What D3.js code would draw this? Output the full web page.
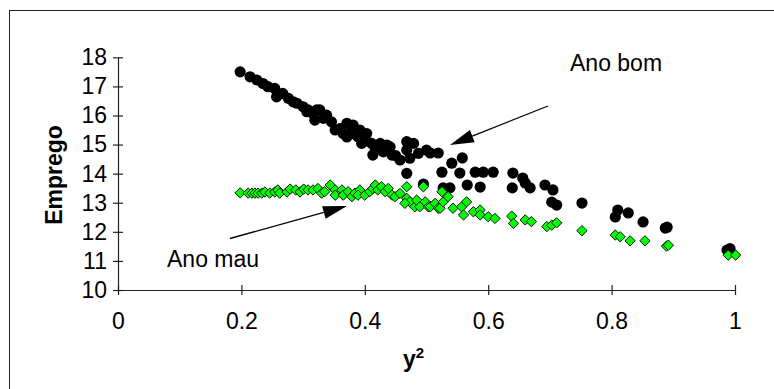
<!DOCTYPE html>
<html>
<head>
<meta charset="utf-8">
<script src="https://cdn.jsdelivr.net/npm/d3@7"></script>
<style>
  body { margin: 0; background: #fff; }
  svg { display: block; font-family: Arial, "Liberation Sans", sans-serif; }
</style>
</head>
<body>
<div id="chart"></div>
<script>
// Ano bom (black circles): [y², emprego]
const anoBom = [
  [0.198, 17.50], [0.214, 17.33], [0.225, 17.22], [0.235, 17.10], [0.243, 16.99],
  [0.254, 16.93], [0.257, 16.64], [0.267, 16.76], [0.276, 16.59], [0.284, 16.47],
  [0.290, 16.42], [0.300, 16.30], [0.306, 16.13], [0.308, 16.19], [0.316, 16.07],
  [0.322, 16.19], [0.319, 15.84], [0.327, 16.19], [0.338, 16.01], [0.346, 15.78],
  [0.352, 15.50], [0.371, 15.73], [0.379, 15.44], [0.365, 15.38], [0.381, 15.67],
  [0.392, 15.50], [0.371, 15.26], [0.389, 15.27], [0.403, 15.38], [0.400, 15.22],
  [0.395, 15.04], [0.411, 15.04], [0.417, 14.87], [0.425, 15.04], [0.413, 14.64],
  [0.436, 14.98], [0.436, 14.81], [0.441, 14.92], [0.444, 14.64], [0.457, 14.47],
  [0.468, 15.10], [0.479, 15.04], [0.468, 14.81], [0.473, 14.53], [0.487, 14.70],
  [0.500, 14.81], [0.506, 14.71], [0.519, 14.71], [0.468, 14.01], [0.495, 13.64],
  [0.527, 13.51], [0.538, 13.51], [0.525, 14.05], [0.541, 14.36], [0.558, 14.54],
  [0.554, 14.02], [0.566, 13.61], [0.579, 14.05], [0.592, 14.05], [0.608, 14.05],
  [0.587, 13.54], [0.640, 14.02], [0.639, 13.51], [0.656, 13.85], [0.660, 13.68],
  [0.668, 13.51], [0.692, 13.61], [0.705, 13.44], [0.703, 13.02], [0.711, 12.92],
  [0.752, 12.99], [0.810, 12.75], [0.806, 12.51], [0.827, 12.65], [0.851, 12.34],
  [0.890, 12.16], [0.887, 12.13], [0.987, 11.37], [0.992, 11.42],
  [0.333, 15.90], [0.360, 15.55], [0.385, 15.35], [0.420, 14.95], [0.430, 14.75],
  [0.450, 14.62]
];

// Ano mau (green diamonds): [y², emprego]
const anoMau = [
  [0.198, 13.34], [0.211, 13.33], [0.217, 13.33], [0.222, 13.33], [0.227, 13.33],
  [0.233, 13.33], [0.238, 13.37], [0.246, 13.33], [0.254, 13.37], [0.259, 13.44],
  [0.262, 13.33], [0.274, 13.37], [0.279, 13.47], [0.288, 13.44], [0.295, 13.37],
  [0.301, 13.47], [0.308, 13.44], [0.316, 13.44], [0.324, 13.49], [0.330, 13.33],
  [0.335, 13.38], [0.344, 13.61], [0.352, 13.44], [0.352, 13.26], [0.363, 13.44],
  [0.365, 13.26], [0.373, 13.38], [0.379, 13.21], [0.384, 13.33], [0.392, 13.44],
  [0.389, 13.26], [0.400, 13.26], [0.408, 13.38], [0.413, 13.49], [0.417, 13.61],
  [0.421, 13.44], [0.427, 13.55], [0.433, 13.38], [0.438, 13.49], [0.444, 13.26],
  [0.449, 13.21], [0.457, 13.32], [0.468, 13.55], [0.468, 13.15], [0.473, 13.03],
  [0.465, 12.98], [0.481, 12.86], [0.484, 13.09], [0.489, 12.86], [0.495, 13.55],
  [0.498, 13.03], [0.503, 12.86], [0.506, 12.86], [0.514, 12.98], [0.519, 12.81],
  [0.522, 12.81], [0.525, 13.38], [0.527, 13.03], [0.535, 13.21], [0.543, 12.81],
  [0.557, 12.86], [0.565, 13.03], [0.560, 12.58], [0.576, 12.69], [0.587, 12.75],
  [0.587, 12.58], [0.600, 12.52], [0.611, 12.46], [0.638, 12.54], [0.641, 12.29],
  [0.660, 12.41], [0.670, 12.35], [0.695, 12.18], [0.703, 12.23], [0.711, 12.31],
  [0.752, 12.04], [0.806, 11.89], [0.814, 11.83], [0.830, 11.69], [0.854, 11.69],
  [0.889, 11.51], [0.892, 11.54], [0.989, 11.20], [1.001, 11.20]
];

const xTicks = [0, 0.2, 0.4, 0.6, 0.8, 1];
const yTicks = [10, 11, 12, 13, 14, 15, 16, 17, 18];

const width = 774, height = 389;
const fontSize = 23;

const svg = d3.select('#chart').append('svg')
    .attr('width', width)
    .attr('height', height);

// chart frame (right/bottom edges fall outside the picture)
svg.append('rect')
    .attr('x', 9.5).attr('y', 10.5)
    .attr('width', 800).attr('height', 400)
    .attr('fill', 'none')
    .attr('stroke', '#222')
    .attr('stroke-width', 1);

const x = d3.scaleLinear().domain([0, 1]).range([118, 735]);
const y = d3.scaleLinear().domain([10, 18]).range([290, 57.3]);

const xAxis = svg.append('g')
    .attr('transform', `translate(0,${y(10)})`)
    .call(d3.axisBottom(x).tickValues(xTicks).tickFormat(d3.format('')).tickSize(5).tickSizeOuter(0).tickPadding(18));
xAxis.selectAll('.tick line').attr('y1', -5).attr('y2', 5);

const yAxis = svg.append('g')
    .attr('transform', `translate(${x(0)},0)`)
    .call(d3.axisLeft(y).tickValues(yTicks).tickSize(5).tickSizeOuter(0).tickPadding(6));
yAxis.selectAll('.tick line').attr('x1', -5).attr('x2', 5);

svg.selectAll('.domain, .tick line').attr('stroke', '#222').attr('stroke-width', 1.2);
svg.selectAll('.tick text')
    .attr('font-size', fontSize)
    .attr('font-family', 'Arial, "Liberation Sans", sans-serif')
    .attr('fill', '#000');

// axis titles
svg.append('text')
    .attr('transform', `translate(62,175) rotate(-90)`)
    .attr('text-anchor', 'middle')
    .attr('font-size', fontSize)
    .attr('font-weight', 'bold')
    .text('Emprego');

const xTitle = svg.append('text')
    .attr('x', 403).attr('y', 367)
    .attr('font-size', fontSize)
    .attr('font-weight', 'bold');
xTitle.append('tspan').text('y');
xTitle.append('tspan').attr('font-size', 15).attr('dy', -9).text('2');

// series
svg.append('g')
  .selectAll('circle')
  .data(anoBom)
  .join('circle')
    .attr('cx', d => x(d[0]))
    .attr('cy', d => y(d[1]))
    .attr('r', 5.6)
    .attr('fill', '#000');

const diamond = d3.symbol().type(d3.symbolDiamond2).size(68);
svg.append('g')
  .selectAll('path')
  .data(anoMau)
  .join('path')
    .attr('transform', d => `translate(${x(d[0])},${y(d[1])})`)
    .attr('d', diamond)
    .attr('fill', '#00ff00')
    .attr('stroke', '#111')
    .attr('stroke-width', 1);

// annotations
const arrow = (x1, y1, x2, y2) => {
    const ang = Math.atan2(y2 - y1, x2 - x1);
    const len = 24, half = 6.5;
    const bx = x2 - len * Math.cos(ang), by = y2 - len * Math.sin(ang);
    const nx = -Math.sin(ang) * half, ny = Math.cos(ang) * half;
    svg.append('line')
        .attr('x1', x1).attr('y1', y1).attr('x2', bx).attr('y2', by)
        .attr('stroke', '#000').attr('stroke-width', 1.3);
    svg.append('path')
        .attr('d', `M${x2},${y2}L${bx + nx},${by + ny}L${bx - nx},${by - ny}Z`)
        .attr('fill', '#000');
};

arrow(548, 106, 450, 145);
arrow(230, 238.5, 347, 206);

svg.append('text')
    .attr('x', 570).attr('y', 71)
    .attr('font-size', fontSize)
    .text('Ano bom');

svg.append('text')
    .attr('x', 167).attr('y', 267)
    .attr('font-size', fontSize)
    .text('Ano mau');
</script>
</body>
</html>
